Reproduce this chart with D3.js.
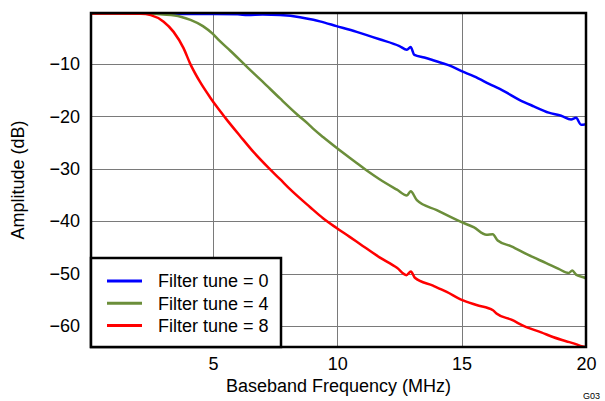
<!doctype html>
<html>
<head>
    <meta charset="utf-8">
    <script src="https://cdn.jsdelivr.net/npm/d3@7"></script>
    <style>
        html, body {
            margin: 0;
            padding: 0;
            background: #fff;
        }
        svg text {
            font-family: "Liberation Sans", Arial, sans-serif;
            fill: #000;
        }
    </style>
</head>
<body>
<svg id="chart" width="605" height="401"></svg>
<script>
    // series (MHz, dB)
    var tune0Freq = [0.1, 1, 2, 3, 4, 5, 6, 6.4, 7, 7.7, 8.5, 9.04, 9.3, 9.97, 10.78, 11.7, 12.5, 12.8, 12.95, 13.1, 13.5, 13.85, 14.5, 15, 15.5, 16.1, 16.7, 17.3, 17.9, 18.5, 19.0, 19.4, 19.6, 19.8, 20];
    var tune0Amp = [-0.4, -0.4, -0.4, -0.45, -0.5, -0.5, -0.55, -0.7, -0.6, -0.7, -1.1, -1.6, -1.9, -2.8, -3.9, -5.3, -6.6, -7.3, -6.8, -8.3, -8.8, -9.3, -10.3, -11.4, -12.4, -13.8, -15.2, -16.8, -18.1, -19.3, -19.9, -20.6, -20.3, -21.6, -21.5];

    var tune4Freq = [0.1, 1, 2, 2.5, 3.0, 3.7, 4.1, 4.6, 5.0, 5.2, 5.7, 6.4, 7.0, 7.7, 8.4, 8.84, 9.04, 9.44, 9.97, 10.78, 11.2, 11.7, 12.4, 12.8, 12.95, 13.2, 14, 15, 15.5, 16.0, 16.25, 16.45, 17, 17.7, 18.4, 18.9, 19.3, 19.45, 19.6, 19.9, 20];
    var tune4Amp = [-0.4, -0.4, -0.4, -0.45, -0.6, -1.0, -1.6, -2.8, -4.3, -5.3, -7.5, -10.7, -13.4, -16.6, -19.7, -21.5, -22.4, -24.0, -26.0, -28.9, -30.4, -32.0, -34.0, -35.1, -34.3, -36.0, -37.9, -40.2, -41.2, -42.6, -42.5, -43.7, -44.8, -46.5, -48.0, -49.1, -49.9, -49.4, -50.2, -50.7, -50.9];

    var tune8Freq = [0.1, 1, 2.1, 2.5, 3.02, 3.42, 3.82, 4.09, 4.49, 4.89, 5.16, 5.5, 6.1, 6.63, 7.23, 7.7, 8.1, 8.9, 9.44, 9.97, 10.5, 10.9, 11.7, 12.4, 12.78, 12.96, 13.12, 13.85, 14.4, 15, 15.6, 16.26, 16.4, 17, 17.6, 18.2, 18.67, 19.2, 19.5, 19.87, 20];
    var tune8Amp = [-0.4, -0.4, -0.45, -0.7, -1.95, -3.9, -7.0, -10.0, -13.5, -16.4, -18.2, -20.3, -23.8, -26.8, -29.8, -32.0, -33.9, -37.3, -39.5, -41.3, -43.0, -44.3, -46.9, -48.9, -50.3, -49.6, -50.8, -52.3, -53.5, -55.0, -56.0, -57.0, -57.6, -58.8, -60.2, -61.2, -62.1, -62.9, -63.3, -63.9, -64.0];

    var seriesNames = ["Filter tune = 0", "Filter tune = 4", "Filter tune = 8"];
    var seriesColors = ["#0000ff", "#6b8e3a", "#ff0000"];
    var xTicks = [5, 10, 15, 20];
    var yTicks = [-10, -20, -30, -40, -50, -60];

    var series = [
        {name: seriesNames[0], color: seriesColors[0], f: tune0Freq, a: tune0Amp},
        {name: seriesNames[1], color: seriesColors[1], f: tune4Freq, a: tune4Amp},
        {name: seriesNames[2], color: seriesColors[2], f: tune8Freq, a: tune8Amp}
    ];

    // plot box (note: "top" is a reserved window global, so use other names)
    var plotL = 91, plotR = 586, plotT = 13, plotB = 347;

    var x = d3.scaleLinear().domain([0.1, 20]).range([plotL, plotR]);
    var y = d3.scaleLinear().domain([-64, -0.3]).range([plotB, plotT]);

    var svg = d3.select("#chart");

    // grid
    svg.append("g").selectAll("line")
        .data(xTicks.filter(function(t){ return t < 20; }))
        .enter().append("line")
        .attr("x1", function(d){ return Math.round(x(d)) + 0.5; })
        .attr("x2", function(d){ return Math.round(x(d)) + 0.5; })
        .attr("y1", plotT).attr("y2", plotB)
        .attr("stroke", "#7a7a7a").attr("stroke-width", 1);

    svg.append("g").selectAll("line")
        .data(yTicks)
        .enter().append("line")
        .attr("x1", plotL).attr("x2", plotR)
        .attr("y1", function(d){ return Math.round(y(d)) + 0.5; })
        .attr("y2", function(d){ return Math.round(y(d)) + 0.5; })
        .attr("stroke", "#7a7a7a").attr("stroke-width", 1);

    // curves
    var line = d3.line()
        .curve(d3.curveMonotoneX)
        .x(function(d){ return x(d[0]); })
        .y(function(d){ return y(d[1]); });

    svg.append("defs").append("clipPath").attr("id", "plotclip")
        .append("rect").attr("x", plotL).attr("y", plotT - 1)
        .attr("width", plotR - plotL).attr("height", plotB - plotT + 1);

    svg.append("g").attr("clip-path", "url(#plotclip)")
        .selectAll("path")
        .data(series)
        .enter().append("path")
        .attr("d", function(s){ return line(s.f.map(function(f, i){ return [f, s.a[i]]; })); })
        .attr("fill", "none")
        .attr("stroke", function(s){ return s.color; })
        .attr("stroke-width", 2.5)
        .attr("stroke-linejoin", "round");

    // axes (labels only)
    var xAxis = svg.append("g")
        .attr("transform", "translate(0," + plotB + ")")
        .call(d3.axisBottom(x).tickValues(xTicks).tickSize(0).tickPadding(10));
    var yAxis = svg.append("g")
        .attr("transform", "translate(" + plotL + ",0)")
        .call(d3.axisLeft(y).tickValues(yTicks).tickSize(0).tickPadding(11));
    [xAxis, yAxis].forEach(function(a){
        a.select(".domain").remove();
        a.selectAll("text").style("font-size", "18px").attr("fill", "#000")
            .style("font-family", "'Liberation Sans', Arial, sans-serif");
    });

    // frame
    svg.append("rect")
        .attr("x", plotL).attr("y", plotT)
        .attr("width", plotR - plotL).attr("height", plotB - plotT)
        .attr("fill", "none").attr("stroke", "#000").attr("stroke-width", 2.5);

    // legend
    var lg = svg.append("g");
    lg.append("rect")
        .attr("x", plotL).attr("y", 258)
        .attr("width", 190).attr("height", plotB - 258)
        .attr("fill", "#fff").attr("stroke", "#000").attr("stroke-width", 2.5);
    var items = lg.selectAll("g").data(series).enter().append("g")
        .attr("transform", function(d, i){ return "translate(0," + (281 + i * 22.3) + ")"; });
    items.append("line")
        .attr("x1", 107).attr("x2", 142)
        .attr("stroke", function(d){ return d.color; })
        .attr("stroke-width", 3);
    items.append("text")
        .attr("x", 158).attr("dy", "0.35em")
        .style("font-size", "18px")
        .text(function(d){ return d.name; });

    // titles
    svg.append("text")
        .attr("x", (plotL + plotR) / 2).attr("y", 392)
        .attr("text-anchor", "middle")
        .style("font-size", "18px")
        .text("Baseband Frequency (MHz)");
    svg.append("text")
        .attr("transform", "translate(24," + ((plotT + plotB) / 2) + ") rotate(-90)")
        .attr("text-anchor", "middle")
        .style("font-size", "18px")
        .text("Amplitude (dB)");
    svg.append("text")
        .attr("x", 600).attr("y", 399)
        .attr("text-anchor", "end")
        .style("font-size", "9px")
        .text("G03");
</script>
</body>
</html>
